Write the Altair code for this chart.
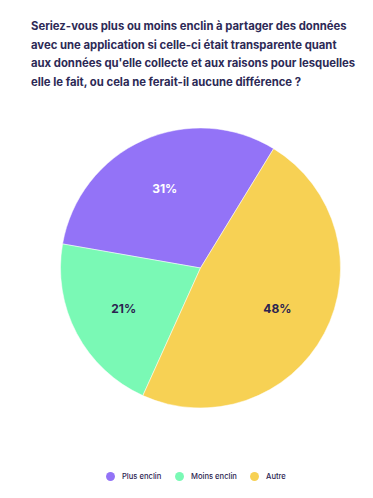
import altair as alt
import pandas as pd
import math

categories = ["Plus enclin", "Moins enclin", "Autre"]
values = [31, 21, 48]
labels = ["31%", "21%", "48%"]
stack_rank = [2, 1, 0]
colors = ["#9373F7", "#7AF9B5", "#F7D154"]
label_colors = ["#FFFFFF", "#2B2350", "#2B2350"]

title_lines = [
    "Seriez-vous plus ou moins enclin à partager des données",
    "avec une application si celle-ci était transparente quant",
    "aux données qu'elle collecte et aux raisons pour lesquelles",
    "elle le fait, ou cela ne ferait-il aucune différence ?",
]

df = pd.DataFrame({
    "cat": categories,
    "value": values,
    "label": labels,
    "rank": stack_rank,
    "lc": label_colors,
})

start = math.radians(31.5)
theta_scale = alt.Scale(range=[start, start + 2 * math.pi])

CX = 192.5
CY = 180

base = alt.Chart(df).encode(
    theta=alt.Theta("value:Q", stack=True, scale=theta_scale),
    order=alt.Order("rank:Q"),
)

arcs = base.mark_arc(outerRadius=140, stroke="white", strokeWidth=0.5).encode(
    x=alt.value(CX),
    y=alt.value(CY),
    color=alt.Color(
        "cat:N",
        scale=alt.Scale(domain=categories, range=colors),
        sort=categories,
        legend=alt.Legend(
            title=None,
            orient="none",
            direction="horizontal",
            legendX=98,
            legendY=384,
            symbolType="circle",
            symbolSize=80,
            symbolStrokeWidth=0,
            labelFont="Inter",
            labelFontSize=7.6,
            labelFontWeight=500,
            labelColor="#2B2350",
            labelOffset=7,
            columnPadding=13,
            padding=0,
        ),
    ),
)

texts = base.mark_text(
    radius=87, font="Inter", fontSize=12, fontWeight="bold"
).encode(
    x=alt.value(CX),
    y=alt.value(CY),
    text="label:N",
    color=alt.Color("lc:N", scale=None),
)

chart = (
    alt.layer(arcs, texts)
    .properties(
        width=357,
        height=482,
        autosize=alt.AutoSizeParams(type="fit", contains="padding"),
        padding={"top": 13, "left": 0, "right": 0, "bottom": 0},
        title=alt.TitleParams(
            text=title_lines,
            anchor="start",
            frame="group",
            dx=23,
            font="Inter",
            fontSize=11.3,
            fontWeight="bold",
            color="#2D2A56",
            lineHeight=18.5,
            offset=0,
        ),
    )
    .configure_view(stroke=None)
)

chart.save("out.html", embed_options={"renderer": "svg", "actions": False})
